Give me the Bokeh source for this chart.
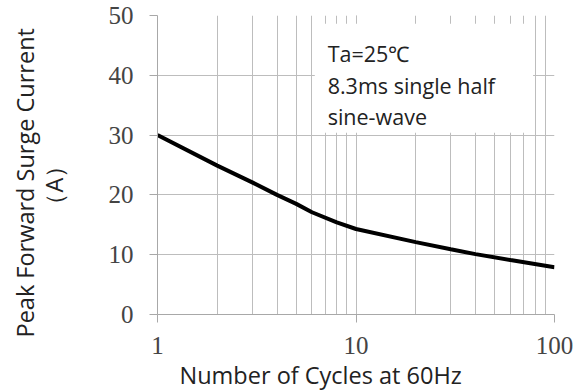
from bokeh.plotting import figure
from bokeh.models import Label, FixedTicker, LogTicker, Title
from bokeh.embed import file_html
from bokeh.resources import INLINE

# data
cycles = [1, 2, 3, 4, 5, 6, 8, 10, 20, 30, 40, 60, 100]
surge_current = [30.0, 24.9, 22.1, 20.0, 18.5, 17.1, 15.4, 14.3, 12.1, 10.9, 10.1, 9.1, 7.9]
y_ticks = [0, 10, 20, 30, 40, 50]
x_ticks = [1, 10, 100]
note_lines = ["Ta=25\u2103", "8.3ms single half", "sine-wave"]
x_title = "Number of Cycles at 60Hz"
y_title = ["Peak Forward Surge Current", "\uff08A\uff09"]

# note box extent (data space)
box_left, box_right, box_bottom, box_top = 6.2, 78.0, 30.4, 48.6
note_x = 7.2
note_centers = [43.6, 38.3, 33.1]

p = figure(width=584, height=391, x_axis_type="log",
           x_range=(1, 100), y_range=(0, 50),
           output_backend="svg", toolbar_location=None,
           min_border_left=156, min_border_right=30,
           min_border_top=15, min_border_bottom=77)
p.outline_line_color = None
p.background_fill_color = "white"
p.border_fill_color = "white"

grid_col = "#bdbdbd"
p.xaxis.ticker = LogTicker(desired_num_ticks=3, num_minor_ticks=10)
p.yaxis.ticker = FixedTicker(ticks=y_ticks)
p.xgrid.grid_line_color = grid_col
p.xgrid.minor_grid_line_color = grid_col
p.ygrid.grid_line_color = grid_col
p.xgrid.grid_line_width = 1
p.ygrid.grid_line_width = 1

for ax in (p.xaxis, p.yaxis):
    ax.axis_line_color = "#a8a8a8"
    ax.major_tick_line_color = "#a8a8a8"
    ax.minor_tick_line_color = None
    ax.major_tick_in = 0
    ax.major_tick_out = 8
    ax.major_label_text_font = "Liberation Serif"
    ax.major_label_text_font_size = "25px"
    ax.major_label_text_color = "#444444"
p.yaxis.major_label_standoff = 16
p.xaxis.major_label_standoff = 14
p.xaxis.major_label_overrides = {1: "1", 10: "10", 100: "100"}

# white note box covering grid
p.quad(left=[box_left], right=[box_right], bottom=[box_bottom], top=[box_top],
       fill_color="white", line_color=None)

p.line(cycles, surge_current, line_color="black", line_width=4)

for t, yy in zip(note_lines, note_centers):
    p.add_layout(Label(x=note_x, y=yy, text=t, text_font="Open Sans",
                       text_font_size="21.5px", text_color="#222222",
                       text_baseline="middle", text_align="left"))

tfont = dict(text_font="Open Sans", text_font_size="23.5px", text_color="#222222",
             text_font_style="normal")
p.add_layout(Title(text=x_title, align="left", offset=22, standoff=0, **tfont), "below")
p.add_layout(Title(text=y_title[1], align="left", offset=98, standoff=71, **tfont), "left")
p.add_layout(Title(text=y_title[0], align="left", offset=-23, standoff=-80, **tfont), "left")

open("out.html", "w").write(file_html(p, INLINE))
